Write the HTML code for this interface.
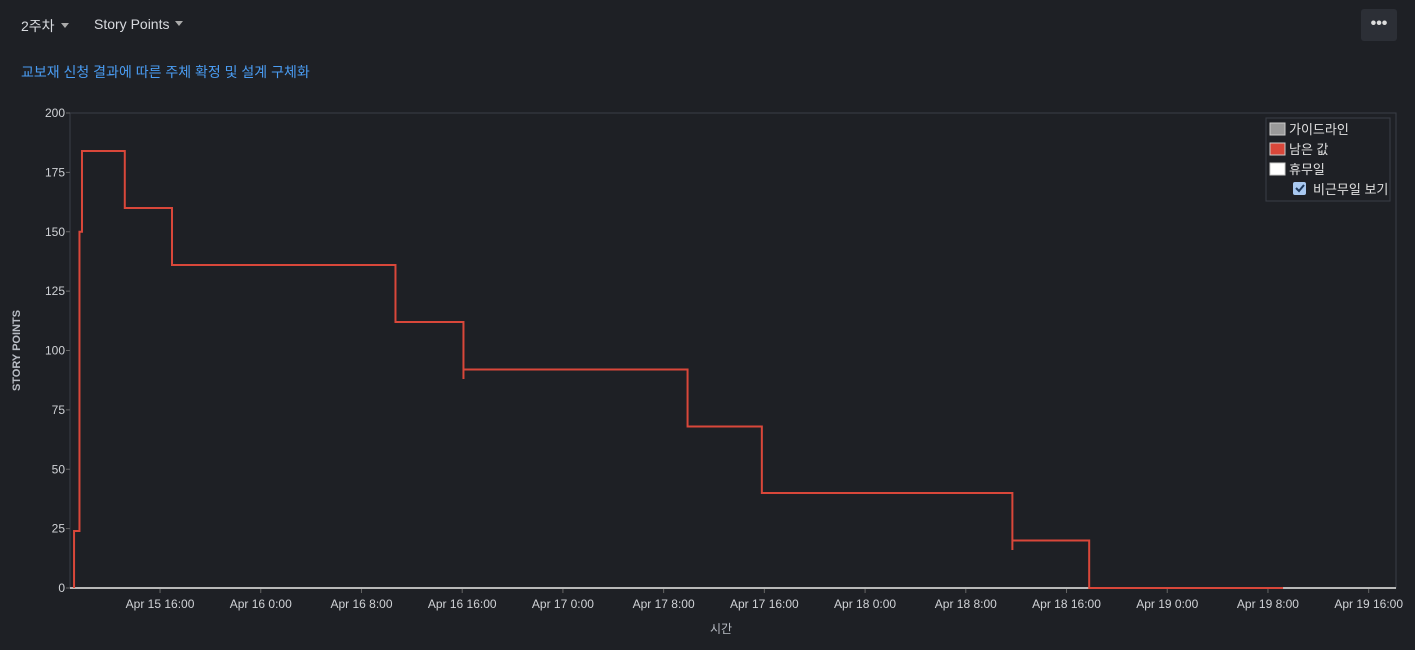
<!DOCTYPE html>
<html><head><meta charset="utf-8"><style>
body{margin:0;background:#1e2025;width:1415px;height:650px;overflow:hidden;font-family:"Liberation Sans","Noto Sans CJK KR",sans-serif;color:#d8dadf}
.dd{position:absolute;top:16px;font-size:14px;color:#d8dadf}
.dd:after{content:"";display:inline-block;margin-left:6px;border-left:4px solid transparent;border-right:4px solid transparent;border-top:5px solid #aaa;vertical-align:3px}
#more{position:absolute;left:1361px;top:9px;width:36px;height:32px;background:#2c2f36;border-radius:3px;color:#ddd;text-align:center;line-height:30px;font-size:16px;font-weight:bold}
#title{position:absolute;left:21px;top:62px;font-size:14px;color:#4a9cf2}
</style></head><body>
<div class="dd" style="left:21px">2주차</div>
<div class="dd" style="left:94px">Story Points</div>
<div id="more">•••</div>
<div id="title">교보재 신청 결과에 따른 주체 확정 및 설계 구체화</div>
<svg id="c" width="1415" height="650" style="position:absolute;left:0;top:0"></svg>
<script>
const yTicks=[0,25,50,75,100,125,150,175,200];
const xTickHours=[16,24,32,40,48,56,64,72,80,88,96,104,112];
const xTickLabels=["Apr 15 16:00","Apr 16 0:00","Apr 16 8:00","Apr 16 16:00","Apr 17 0:00","Apr 17 8:00","Apr 17 16:00","Apr 18 0:00","Apr 18 8:00","Apr 18 16:00","Apr 19 0:00","Apr 19 8:00","Apr 19 16:00"];
const stepHours=[9.17,9.6,9.8,13.2,16.95,34.7,40.1,40.1,57.9,63.8,83.7,83.7,89.8];
const stepValues=[24,150,184,160,136,112,88,92,68,40,16,20,0];
const endHour=105.2;
const NS="http://www.w3.org/2000/svg";
const svg=document.getElementById('c');
const L=70,R=1396,T=113,B=588;
const x=h=>-41.4+h*12.59;
const y=v=>B-(v/200)*(B-T);
function el(t,a){const e=document.createElementNS(NS,t);for(const k in a)e.setAttribute(k,a[k]);svg.appendChild(e);return e;}
let f=el('rect',{x:L,y:T,width:R-L,height:B-T,fill:'none',stroke:'#3a3e47'});


yTicks.forEach(v=>{
 const t=el('text',{x:L-5,y:y(v)+4,'text-anchor':'end','font-size':12,fill:'#d0d2d6'});t.textContent=v;
 
 
 el('line',{x1:L-4,x2:L,y1:y(v),y2:y(v),stroke:'#666'});
});
xTickHours.forEach((h,i)=>{
 el('line',{x1:x(h),x2:x(h),y1:B,y2:B+5,stroke:'#666'});
 const t=el('text',{x:x(h),y:B+20,'text-anchor':'middle','font-size':12,fill:'#d0d2d6'});t.textContent=xTickLabels[i];
 
 
});
let g=el('line',{x1:L,x2:R,y1:B,y2:B,stroke:'#b8b8b8','stroke-width':2});


let d=`M${x(stepHours[0])},${y(0)}`;
for(let i=0;i<stepHours.length;i++){
 d+=` L${x(stepHours[i])},${y(i?stepValues[i-1]:0)} L${x(stepHours[i])},${y(stepValues[i])}`;
}
d+=` L${x(endHour)},${y(stepValues[stepValues.length-1])}`;
let p=el('path',{d:d,fill:'none',stroke:'#d9473a','stroke-width':2});


let yt=el('text',{x:20,y:(T+B)/2,'text-anchor':'middle','font-size':11,'font-weight':'bold',fill:'#b8bcc4',transform:`rotate(-90 20 ${(T+B)/2})`});yt.textContent='STORY POINTS';


let xt=el('text',{x:(L+R)/2-12,y:633,'text-anchor':'middle','font-size':12,fill:'#b8bcc4'});xt.textContent='시간';


let lg=el('rect',{x:1266,y:118,width:124,height:83,fill:'#1e2025',stroke:'#3a3e47'});


[['가이드라인','#9a9a9a'],['남은 값','#d9473a'],['휴무일','#ffffff']].forEach((e,i)=>{
 const yy=123+i*20;
 const r=el('rect',{x:1270,y:yy,width:15,height:12,fill:e[1],stroke:'#ccc'});
 
 
 const t=el('text',{x:1289,y:yy+11,'font-size':13,fill:'#e0e0e0'});t.textContent=e[0];
 
 
});
let cb=el('rect',{x:1293,y:182,width:13,height:13,rx:2,fill:'#a8c8f0'});


el('path',{d:'M1296,188 l3,3 l5,-6',stroke:'#1e3a5e','stroke-width':2,fill:'none'});
let ct=el('text',{x:1313,y:194,'font-size':13,fill:'#e0e0e0'});ct.textContent='비근무일 보기';


</script>
</body></html>
